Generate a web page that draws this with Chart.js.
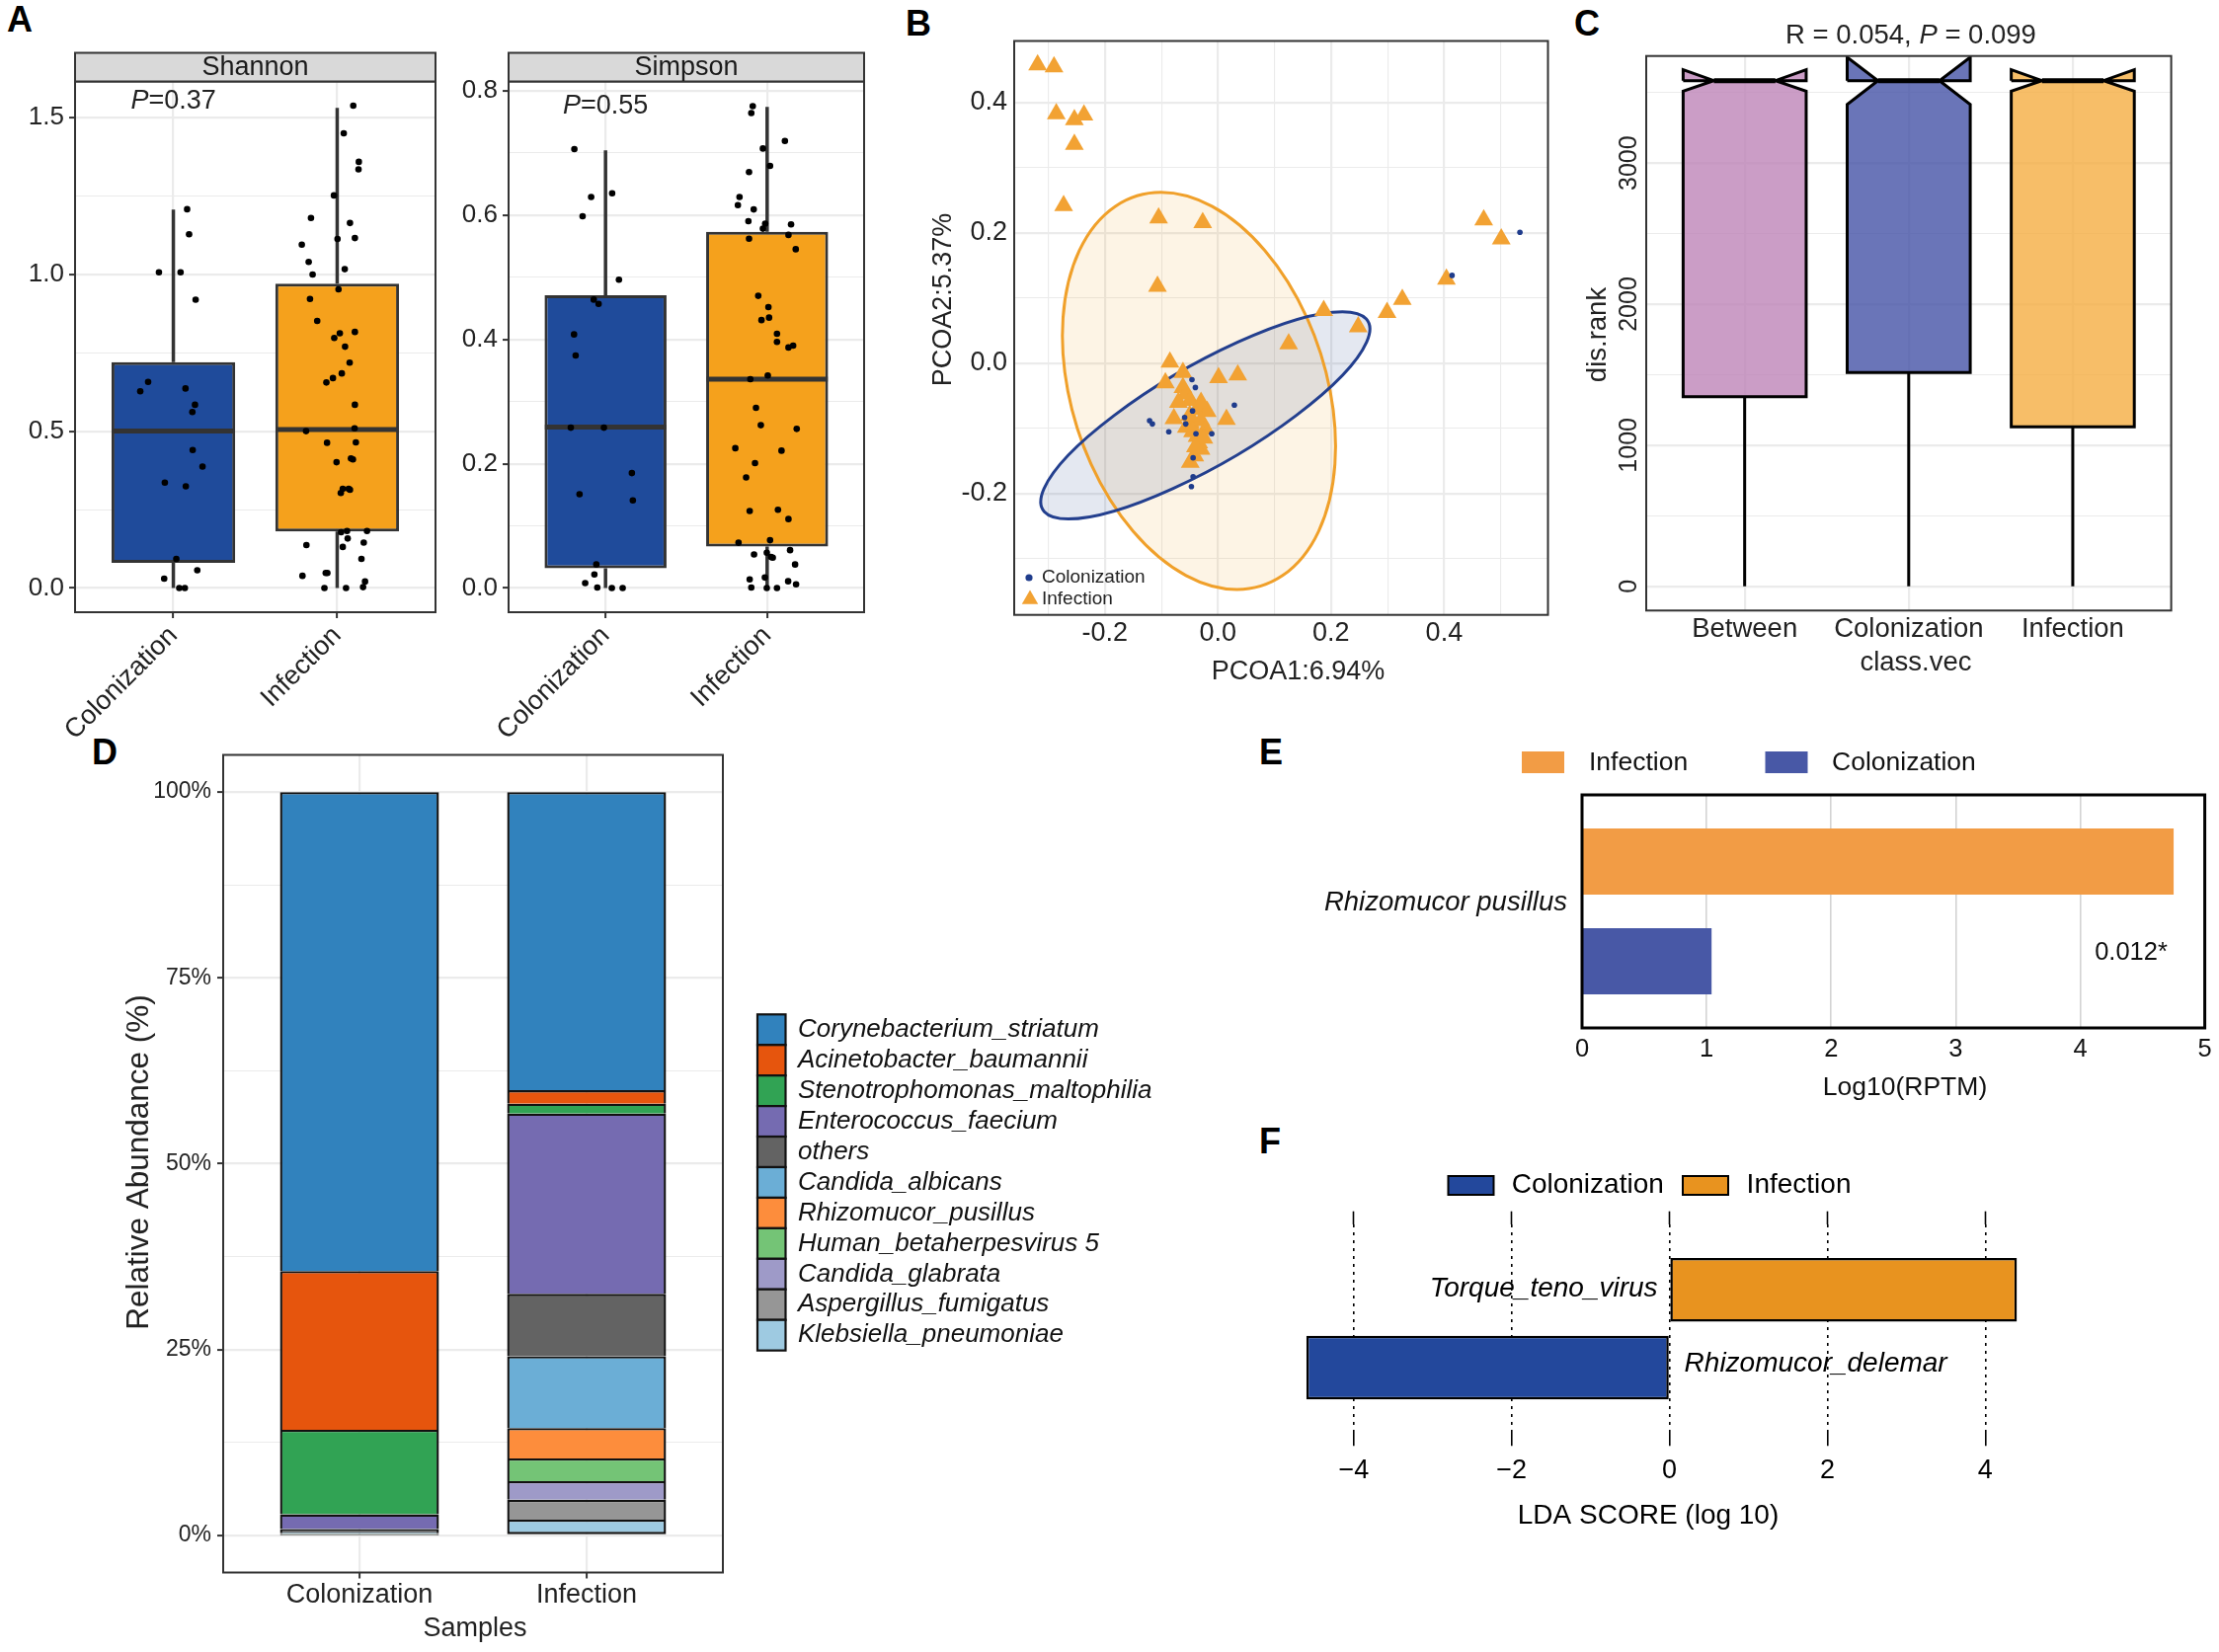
<!DOCTYPE html>
<html>
<head>
<meta charset="utf-8">
<title>Figure</title>
<script src="https://cdn.jsdelivr.net/npm/chart.js@4.4.1/dist/chart.umd.min.js"></script>
<style>
  html, body { margin: 0; padding: 0; background: #fff; }
  body { position: relative; width: 2247px; height: 1673px; overflow: hidden; font-family: 'Liberation Sans', Arial, sans-serif; }
  canvas { position: absolute; }
  .tag { position: absolute; font-weight: bold; font-size: 36px; line-height: 1; color: #000; }
</style>
</head>
<body>
<div class="tag" style="left:7px;top:2px">A</div>
<div class="tag" style="left:917px;top:6px">B</div>
<div class="tag" style="left:1594px;top:6px">C</div>
<div class="tag" style="left:93px;top:744px">D</div>
<div class="tag" style="left:1275px;top:744px">E</div>
<div class="tag" style="left:1275px;top:1138px">F</div>
<canvas id="shannon"></canvas>
<canvas id="simpson"></canvas>
<canvas id="cB"></canvas>
<canvas id="cC"></canvas>
<canvas id="cD"></canvas>
<canvas id="cE"></canvas>
<canvas id="cF"></canvas>
<script>
const FONT = "'Liberation Sans', Arial, sans-serif";
Chart.defaults.font.family = FONT;
Chart.defaults.color = '#222';

// ---------------- data ----------------
const groups = ['Colonization', 'Infection'];
const groupFill = ['#1F4B9B', '#F5A11C'];

// A - Shannon
const shannonTicks = [0, 0.5, 1.0, 1.5];
const shannonQ1 = [0.08, 0.18];
const shannonMed = [0.50, 0.505];
const shannonQ3 = [0.72, 0.97];
const shannonLo = [0, 0];
const shannonHi = [1.206, 1.53];
const shannonColY = [1.207,1.127,1.006,1.006,0.919,0.657,0.627,0.636,0.584,0.561,0.440,0.387,0.336,0.324,0.093,0.057,0.030,0.0,0.0];
const shannonColJit = [0.084,0.096,-0.088,0.044,0.136,-0.154,-0.202,0.074,0.132,0.116,0.118,0.178,-0.052,0.076,0.018,0.146,-0.056,0.036,0.07];
const shannonInfY = [1.537,1.449,1.358,1.334,1.251,1.179,1.163,1.094,1.112,1.115,1.039,1.016,0.999,0.952,0.921,0.851,0.812,0.816,0.797,0.769,0.718,0.684,0.669,0.655,0.584,0.500,0.509,0.463,0.464,0.413,0.410,0.401,0.316,0.316,0.313,0.303,0.178,0.182,0.182,0.137,0.158,0.145,0.131,0.093,0.039,0.048,0.048,0.021,0.0,0.0,0.003];
const shannonInfJit = [0.098,0.04,0.132,0.13,-0.02,-0.16,0.078,-0.216,0.002,0.108,-0.174,0.046,-0.15,0.008,-0.166,-0.122,0.016,0.108,-0.018,0.048,0.076,0.028,-0.026,-0.066,0.108,-0.19,0.106,-0.062,0.114,0.084,0.096,-0.004,0.034,0.07,0.078,0.022,0.024,0.06,0.182,-0.188,0.064,0.162,0.034,0.148,-0.212,-0.07,-0.06,0.17,-0.078,0.054,0.158];

// A - Simpson
const simpsonTicks = [0, 0.2, 0.4, 0.6, 0.8];
const simpsonQ1 = [0.032, 0.067];
const simpsonMed = [0.259, 0.336];
const simpsonQ3 = [0.471, 0.573];
const simpsonLo = [0, 0];
const simpsonHi = [0.704, 0.774];
const simpsonColY = [0.706,0.629,0.635,0.598,0.496,0.464,0.457,0.408,0.374,0.258,0.258,0.185,0.151,0.141,0.038,0.022,0.008,0.001,0.0,0.0];
const simpsonColJit = [-0.193,-0.089,0.041,-0.142,0.083,-0.073,-0.043,-0.195,-0.185,-0.215,-0.01,0.163,-0.161,0.169,-0.057,-0.069,-0.126,-0.051,0.039,0.106];
const simpsonInfY = [0.775,0.764,0.719,0.707,0.679,0.669,0.629,0.616,0.609,0.590,0.586,0.578,0.585,0.568,0.562,0.545,0.470,0.452,0.431,0.435,0.409,0.396,0.387,0.390,0.336,0.342,0.290,0.262,0.256,0.225,0.221,0.201,0.178,0.124,0.126,0.111,0.073,0.077,0.061,0.054,0.057,0.050,0.049,0.038,0.014,0.017,0.011,0.006,0.001,0.0,0.0];
const simpsonInfJit = [-0.089,-0.098,0.11,-0.026,0.018,-0.112,-0.171,-0.181,-0.083,-0.116,-0.012,-0.026,0.148,0.132,-0.112,0.177,-0.055,0.008,-0.035,0.012,0.061,0.061,0.132,0.161,-0.104,0.004,-0.069,-0.039,0.183,-0.197,0.089,-0.075,-0.13,-0.108,0.067,0.132,-0.177,0.018,0.142,-0.081,-0.002,0.024,0.035,0.173,-0.108,-0.014,0.13,0.179,-0.098,-0.002,0.061];

// B - PCoA
const bTicks = [-0.2, 0, 0.2, 0.4];
const bInfX = [-0.319,-0.290,-0.286,-0.254,-0.237,-0.254,-0.273,-0.105,-0.027,-0.107,0.470,0.501,0.404,0.326,0.299,0.187,0.248,0.125,-0.085,-0.062,0.001,0.035,-0.093,-0.062,-0.057,-0.049,-0.034,-0.019,-0.078,0.015,-0.049,-0.030,-0.037,-0.034,-0.030,-0.041,-0.049,-0.056,-0.022,-0.045,-0.025,-0.040,-0.050,-0.070,-0.030];
const bInfY = [0.458,0.455,0.383,0.374,0.381,0.336,0.242,0.223,0.216,0.118,0.220,0.191,0.129,0.098,0.078,0.081,0.056,0.030,0.002,-0.014,-0.022,-0.018,-0.030,-0.037,-0.047,-0.057,-0.071,-0.074,-0.085,-0.086,-0.091,-0.088,-0.112,-0.122,-0.132,-0.142,-0.152,-0.098,-0.101,-0.105,-0.115,-0.128,-0.080,-0.060,-0.060];
const bColX = [0.534,0.414,-0.046,-0.040,0.029,-0.121,-0.116,-0.087,-0.059,-0.057,-0.045,-0.039,-0.011,-0.044,-0.044,-0.047];
const bColY = [0.201,0.135,-0.025,-0.037,-0.064,-0.088,-0.093,-0.105,-0.083,-0.093,-0.073,-0.108,-0.108,-0.145,-0.174,-0.189];
// confidence ellipses: centre, conjugate semi-axes (data units)
const bInfEllC = [-0.0336, -0.0423], bInfEllA = [-0.0672, 0.3047], bInfEllB = [0.232, 0];
const bColEllC = [-0.0224, -0.0798], bColEllA = [0.2425, 0.159], bColEllB = [0.161, 0];

// C - ANOSIM notched boxes
const cGroups = ['Between', 'Colonization', 'Infection'];
const cTicks = [0, 1000, 2000, 3000];
const cQ1 = [1344, 1516, 1131];
const cMed = [3584, 3584, 3584];
const cQ3 = [3584, 3584, 3584];
const cNotchLo = [3509, 3416, 3509];
const cNotchHi = [3662, 3750, 3662];
const cLo = [0, 0, 0];
const cFills = ['rgba(190,132,184,0.8)', 'rgba(69,83,166,0.8)', 'rgba(245,174,66,0.8)'];

// D - relative abundance
const dSamples = ['Colonization', 'Infection'];
const dTaxa = ['Corynebacterium_striatum', 'Acinetobacter_baumannii', 'Stenotrophomonas_maltophilia', 'Enterococcus_faecium', 'others', 'Candida_albicans', 'Rhizomucor_pusillus', 'Human_betaherpesvirus 5', 'Candida_glabrata', 'Aspergillus_fumigatus', 'Klebsiella_pneumoniae'];
const dColors = ['#3182BD', '#E6550D', '#31A354', '#756BB1', '#636363', '#6BAED6', '#FD8D3C', '#74C476', '#9E9AC8', '#969696', '#9ECAE1'];
const dColonization = [64.44, 21.35, 11.38, 1.97, 0.50, 0.10, 0.06, 0.05, 0.05, 0.05, 0.05];
const dInfection = [40.11, 1.81, 1.33, 24.25, 8.40, 9.66, 4.08, 3.06, 2.51, 2.67, 2.12];
const dTicks = [0, 25, 50, 75, 100];

// E - Log10(RPTM)
const eTaxa = ['Rhizomucor pusillus'];
const eInfection = [4.75];
const eColonization = [1.04];
const eTicks = [0, 1, 2, 3, 4, 5];
const ePValue = '0.012*';

// F - LEfSe
const fTaxa = ['Torque_teno_virus', 'Rhizomucor_delemar'];
const fGroup = ['Infection', 'Colonization'];
const fLDA = [4.4, -4.6];
const fTicks = [-4, -2, 0, 2, 4];
const fLegend = ['Colonization', 'Infection'];
const fColors = {Colonization: '#23489C', Infection: '#E8931F'};

// ---------------- helpers ----------------
const GRID = '#EBEBEB';
const AXIS_TXT = '#222';
const BOX_HW = 0.375;
const NOTCH_IN = 0.1875;

function place(id, box) {
  const c = document.getElementById(id);
  c.width = box.w; c.height = box.h;
  c.style.left = box.x + 'px'; c.style.top = box.y + 'px';
  return c;
}
function padFor(box, area, extraTop) {
  return {autoPadding: false, padding: {left: 0, bottom: 0, right: box.x + box.w - area.r, top: area.t - box.y - (extraTop || 0)}};
}
function minorTicks(major, min, max) {
  const step = major[1] - major[0], out = [];
  for (let v = major[0] - step / 2; v <= max; v += step) if (v >= min) out.push(+v.toFixed(6));
  return out;
}
function tickSetter(major, minor) {
  return s => {
    s.ticks = major.map(v => ({value: v}))
      .concat((minor || []).map(v => ({value: v, minor: true})))
      .sort((a, b) => a.value - b.value);
  };
}
const isMinor = c => !!(c.tick && c.tick.minor);
function themeGrid(tickLen) {
  return {
    color: GRID, lineWidth: c => isMinor(c) ? 1.1 : 2.2, offset: false,
    drawTicks: tickLen > 0, tickLength: tickLen, tickWidth: 2,
    tickColor: c => isMinor(c) ? 'rgba(0,0,0,0)' : '#333'
  };
}
function rich(ctx, parts, x, y, align, size, color) {
  ctx.fillStyle = color; ctx.textBaseline = 'middle'; ctx.textAlign = 'left';
  const fonts = parts.map(p => (p[1] ? 'italic ' : '') + size + 'px ' + FONT);
  const ws = parts.map((p, i) => { ctx.font = fonts[i]; return ctx.measureText(p[0]).width; });
  const total = ws.reduce((a, b) => a + b, 0);
  let cx = align === 'center' ? x - total / 2 : align === 'right' ? x - total : x;
  parts.forEach((p, i) => { ctx.font = fonts[i]; ctx.fillText(p[0], cx, y); cx += ws[i]; });
}
function textPlugin(box, items) {
  return {id: 'texts', afterDraw(chart) {
    const ctx = chart.ctx;
    items.forEach(it => {
      const p = it.at ? it.at(chart) : [it.x - box.x, it.y - box.y];
      ctx.save();
      ctx.translate(p[0], p[1]);
      if (it.rot) ctx.rotate(it.rot);
      rich(ctx, it.parts || [[it.text, false]], 0, 0, it.align || 'center', it.size, it.color || AXIS_TXT);
      ctx.restore();
    });
  }};
}
function framePlugin(color, width) {
  return {id: 'frame', afterDatasetsDraw(chart) {
    const {ctx, chartArea: a} = chart;
    ctx.save(); ctx.strokeStyle = color; ctx.lineWidth = width;
    ctx.strokeRect(a.left, a.top, a.right - a.left, a.bottom - a.top);
    ctx.restore();
  }};
}
function stripPlugin(label) {
  return {id: 'strip', afterDraw(chart) {
    const {ctx, chartArea: a} = chart, h = 29;
    ctx.save();
    ctx.fillStyle = '#D9D9D9'; ctx.fillRect(a.left, a.top - h, a.right - a.left, h);
    ctx.strokeStyle = '#333'; ctx.lineWidth = 2; ctx.strokeRect(a.left, a.top - h, a.right - a.left, h);
    rich(ctx, [[label, false]], (a.left + a.right) / 2, a.top - h / 2 + 1, 'center', 27, '#1a1a1a');
    ctx.restore();
  }};
}
const baseOpts = (box, area, extraTop) => ({
  responsive: false, animation: false, events: [],
  layout: padFor(box, area, extraTop),
  plugins: {legend: {display: false}, tooltip: {enabled: false}}
});

// ---------------- A ----------------
function alphaPanel(id, box, area, d) {
  const xs = groups.map((g, i) => i + 1);
  const whisk = [], meds = [], pts = [];
  xs.forEach((x, i) => {
    whisk.push({x, y: d.lo[i]}, {x, y: d.q1[i]}, {x, y: null}, {x, y: d.q3[i]}, {x, y: d.hi[i]}, {x, y: null});
    meds.push({x: x - BOX_HW, y: d.med[i]}, {x: x + BOX_HW, y: d.med[i]}, {x, y: null});
  });
  d.colY.forEach((v, k) => pts.push({x: 1 + d.colJit[k], y: v}));
  d.infY.forEach((v, k) => pts.push({x: 2 + d.infJit[k], y: v}));
  const opts = baseOpts(box, area);
  opts.scales = {
    x: {type: 'linear', min: 0.4, max: 2.6, offset: false, bounds: 'data',
        afterBuildTicks: tickSetter(xs), afterFit: s => { s.height = box.y + box.h - area.b; },
        grid: themeGrid(6), border: {display: false},
        ticks: {autoSkip: false, minRotation: 45, maxRotation: 45, padding: 2, color: AXIS_TXT, font: {size: 27}, callback: v => groups[v - 1]}},
    y: {type: 'linear', min: d.min, max: d.max, bounds: 'data',
        afterBuildTicks: tickSetter(d.ticks, minorTicks(d.ticks, d.min, d.max)), afterFit: s => { s.width = area.l - box.x; },
        grid: themeGrid(6), border: {display: false},
        ticks: {autoSkip: false, padding: 5, color: AXIS_TXT, font: {size: 26}, callback: (v, i, t) => t[i].minor ? '' : v.toFixed(1)}}
  };
  return new Chart(place(id, box), {
    type: 'bar',
    data: {datasets: [
      {type: 'scatter', data: pts, backgroundColor: '#000', pointRadius: 3.3, borderWidth: 0, order: 0},
      {type: 'line', data: meds, borderColor: '#333', borderWidth: 5, pointRadius: 0, order: 1},
      {type: 'bar', data: xs.map((x, i) => ({x, y: [d.q1[i], d.q3[i]]})), backgroundColor: groupFill, borderColor: '#333',
       borderWidth: 3, borderSkipped: false, categoryPercentage: 1, barPercentage: 0.755, order: 2},
      {type: 'line', data: whisk, borderColor: '#333', borderWidth: 3.5, pointRadius: 0, order: 3}
    ]},
    options: opts,
    plugins: [stripPlugin(d.title), framePlugin('#333', 2),
      textPlugin(box, [{parts: [['P', true], ['=' + d.p, false]], size: 27,
        at: c => [c.scales.x.getPixelForValue(d.pAt[0]), c.scales.y.getPixelForValue(d.pAt[1])]}])]
  });
}

alphaPanel('shannon', {x: 0, y: 0, w: 450, h: 750}, {l: 76, t: 82.5, r: 441, b: 620}, {
  title: 'Shannon', ticks: shannonTicks, min: -0.0769, max: 1.614, p: '0.37', pAt: [1, 1.55],
  q1: shannonQ1, med: shannonMed, q3: shannonQ3, lo: shannonLo, hi: shannonHi,
  colY: shannonColY, colJit: shannonColJit, infY: shannonInfY, infJit: shannonInfJit
});
alphaPanel('simpson', {x: 450, y: 0, w: 440, h: 750}, {l: 515, t: 82.5, r: 875, b: 620}, {
  title: 'Simpson', ticks: simpsonTicks, min: -0.0388, max: 0.8148, p: '0.55', pAt: [1, 0.775],
  q1: simpsonQ1, med: simpsonMed, q3: simpsonQ3, lo: simpsonLo, hi: simpsonHi,
  colY: simpsonColY, colJit: simpsonColJit, infY: simpsonInfY, infJit: simpsonInfJit
});

// ---------------- B ----------------
const boxB = {x: 900, y: 0, w: 680, h: 720};
const areaB = {l: 1027, t: 41.5, r: 1567.5, b: 622.7};
const bX = [-0.3604, 0.5836], bY = [-0.386, 0.4947];
function ellipsePath(ctx, xs, ys, c, a, b) {
  const cx = xs.getPixelForValue(c[0]), cy = ys.getPixelForValue(c[1]);
  const ax = xs.getPixelForValue(c[0] + a[0]) - cx, ay = ys.getPixelForValue(c[1] + a[1]) - cy;
  const bx = xs.getPixelForValue(c[0] + b[0]) - cx, by = ys.getPixelForValue(c[1] + b[1]) - cy;
  ctx.save(); ctx.transform(ax, ay, bx, by, cx, cy);
  ctx.beginPath(); ctx.arc(0, 0, 1, 0, Math.PI * 2); ctx.closePath();
  ctx.restore();
}
const ellipsePlugin = {id: 'ellipses', beforeDatasetsDraw(chart) {
  const {ctx, chartArea: ar, scales: {x, y}} = chart;
  const list = [
    [bInfEllC, bInfEllA, bInfEllB, 'rgba(242,161,40,0.12)', '#F0A02A'],
    [bColEllC, bColEllA, bColEllB, 'rgba(35,63,142,0.12)', '#233F8E']
  ];
  ctx.save();
  ctx.beginPath(); ctx.rect(ar.left, ar.top, ar.right - ar.left, ar.bottom - ar.top); ctx.clip();
  list.forEach(e => { ellipsePath(ctx, x, y, e[0], e[1], e[2]); ctx.fillStyle = e[3]; ctx.fill(); });
  list.forEach(e => { ellipsePath(ctx, x, y, e[0], e[1], e[2]); ctx.strokeStyle = e[4]; ctx.lineWidth = 3; ctx.stroke(); });
  ctx.restore();
}};
const bLegend = {id: 'bLegend', afterDraw(chart) {
  const ctx = chart.ctx, ox = boxB.x, oy = boxB.y;
  ctx.save();
  ctx.fillStyle = '#1F3C8C';
  ctx.beginPath(); ctx.arc(1042 - ox, 585 - oy, 3.6, 0, Math.PI * 2); ctx.fill();
  const tx = 1043 - ox, ty = 607 - oy, r = 9.5;
  ctx.fillStyle = '#F2A233';
  ctx.beginPath();
  for (let k = 0; k < 3; k++) {
    const ang = k * 2 * Math.PI / 3;
    const px = tx + Math.sin(ang) * r, py = ty - Math.cos(ang) * r;
    if (k === 0) ctx.moveTo(px, py); else ctx.lineTo(px, py);
  }
  ctx.closePath(); ctx.fill();
  rich(ctx, [['Colonization', false]], 1055 - ox, 585 - oy, 'left', 19, '#222');
  rich(ctx, [['Infection', false]], 1055 - ox, 607 - oy, 'left', 19, '#222');
  ctx.restore();
}};
(function () {
  const opts = baseOpts(boxB, areaB);
  opts.scales = {
    x: {type: 'linear', min: bX[0], max: bX[1], bounds: 'data',
        afterBuildTicks: tickSetter(bTicks, minorTicks(bTicks, bX[0], bX[1])), afterFit: s => { s.height = boxB.y + boxB.h - areaB.b; },
        grid: themeGrid(0), border: {display: false},
        ticks: {autoSkip: false, padding: 3, color: AXIS_TXT, font: {size: 27}, callback: (v, i, t) => t[i].minor ? '' : v.toFixed(1)}},
    y: {type: 'linear', min: bY[0], max: bY[1], bounds: 'data',
        afterBuildTicks: tickSetter(bTicks, minorTicks(bTicks, bY[0], bY[1])), afterFit: s => { s.width = areaB.l - boxB.x; },
        grid: themeGrid(0), border: {display: false},
        ticks: {autoSkip: false, padding: 7, color: AXIS_TXT, font: {size: 27}, callback: (v, i, t) => t[i].minor ? '' : v.toFixed(1)}}
  };
  new Chart(place('cB', boxB), {
    type: 'scatter',
    data: {datasets: [
      {label: 'Colonization', data: bColX.map((v, i) => ({x: v, y: bColY[i]})), backgroundColor: '#1F3C8C', pointRadius: 2.8, borderWidth: 0},
      {label: 'Infection', data: bInfX.map((v, i) => ({x: v, y: bInfY[i]})), pointStyle: 'triangle', pointRadius: 11, backgroundColor: '#F2A233', borderWidth: 0}
    ]},
    options: opts,
    plugins: [ellipsePlugin, framePlugin('#333', 2), bLegend, textPlugin(boxB, [
      {text: 'PCOA1:6.94%', x: 1314.5, y: 681, size: 27},
      {text: 'PCOA2:5.37%', x: 955.6, y: 303.5, size: 27, rot: -Math.PI / 2}
    ])]
  });
})();

// ---------------- C ----------------
const boxC = {x: 1585, y: 0, w: 662, h: 720};
const areaC = {l: 1667, t: 56.7, r: 2198.6, b: 618.3};
const cY = [-172, 3759];
(function () {
  const xs = cGroups.map((g, i) => i + 1);
  const ds = [];
  xs.forEach((x, i) => {
    const l = x - BOX_HW, r = x + BOX_HW;
    ds.push({type: 'line', order: 1, fill: 'shape', backgroundColor: cFills[i], borderColor: '#000', borderWidth: 3, pointRadius: 0,
      data: [{x: l, y: cQ3[i]}, {x: l, y: cNotchHi[i]}, {x: l + NOTCH_IN, y: cMed[i]}, {x: l, y: cNotchLo[i]}, {x: l, y: cQ1[i]},
             {x: r, y: cQ1[i]}, {x: r, y: cNotchLo[i]}, {x: r - NOTCH_IN, y: cMed[i]}, {x: r, y: cNotchHi[i]}, {x: r, y: cQ3[i]}, {x: l, y: cQ3[i]}]});
  });
  const meds = [], whisk = [];
  xs.forEach((x, i) => {
    meds.push({x: x - BOX_HW + NOTCH_IN, y: cMed[i]}, {x: x + BOX_HW - NOTCH_IN, y: cMed[i]}, {x, y: null});
    whisk.push({x, y: cLo[i]}, {x, y: cQ1[i]}, {x, y: null});
  });
  ds.push({type: 'line', order: 0, data: meds, borderColor: '#000', borderWidth: 5, pointRadius: 0});
  ds.push({type: 'line', order: 2, data: whisk, borderColor: '#000', borderWidth: 3, pointRadius: 0});
  const cYLabels = {id: 'cYLabels', afterDraw(chart) {
    const {ctx, scales: {y}} = chart;
    cTicks.forEach(v => {
      ctx.save(); ctx.translate(1650 - boxC.x, y.getPixelForValue(v)); ctx.rotate(-Math.PI / 2);
      rich(ctx, [[String(v), false]], 0, 0, 'center', 25, AXIS_TXT); ctx.restore();
    });
  }};
  const opts = baseOpts(boxC, areaC);
  opts.scales = {
    x: {type: 'linear', min: 0.4, max: 3.6, bounds: 'data', afterBuildTicks: tickSetter(xs),
        afterFit: s => { s.height = boxC.y + boxC.h - areaC.b; }, grid: themeGrid(0), border: {display: false},
        ticks: {autoSkip: false, maxRotation: 0, padding: 3, color: AXIS_TXT, font: {size: 27.5}, callback: v => cGroups[v - 1]}},
    y: {type: 'linear', min: cY[0], max: cY[1], bounds: 'data',
        afterBuildTicks: tickSetter(cTicks, minorTicks(cTicks, cY[0], cY[1])), afterFit: s => { s.width = areaC.l - boxC.x; },
        grid: themeGrid(0), border: {display: false}, ticks: {display: false}}
  };
  new Chart(place('cC', boxC), {
    type: 'line', data: {datasets: ds}, options: opts,
    plugins: [framePlugin('#333', 2), cYLabels, textPlugin(boxC, [
      {parts: [['R = 0.054, ', false], ['P', true], [' = 0.099', false]], x: 1935, y: 36.6, size: 27.5},
      {text: 'class.vec', x: 1940, y: 671, size: 27.5},
      {text: 'dis.rank', x: 1618, y: 339, size: 27.5, rot: -Math.PI / 2}
    ])]
  });
})();

// ---------------- D ----------------
const boxD = {x: 0, y: 740, w: 1255, h: 933};
const areaD = {l: 226, t: 764.5, r: 732, b: 1592.5};
const dY = [-5, 105];
(function () {
  const abund = [dColonization, dInfection];
  const xs = dSamples.map((s, j) => j + 1);
  const datasets = dTaxa.map((t, i) => ({
    label: t, backgroundColor: dColors[i],
    data: xs.map((x, j) => ({x, y: abund[j][i]}))
  })).reverse();
  const dLegend = {id: 'dLegend', afterDraw(chart) {
    const ctx = chart.ctx, ox = boxD.x, oy = boxD.y, top = 1027.3, row = 30.94;
    ctx.save();
    dTaxa.forEach((t, i) => {
      const y = top + i * row - oy;
      ctx.fillStyle = dColors[i]; ctx.fillRect(767 - ox, y, 28.5, row);
      ctx.strokeStyle = '#111'; ctx.lineWidth = 2.2; ctx.strokeRect(767 - ox, y, 28.5, row);
      rich(ctx, [[t, true]], 808 - ox, y + row / 2, 'left', 26, '#111');
    });
    ctx.restore();
  }};
  const opts = baseOpts(boxD, areaD);
  opts.datasets = {bar: {borderColor: '#111', borderWidth: 2.4, categoryPercentage: 1, barPercentage: 0.7,
    borderSkipped: c => c.datasetIndex === 0 ? false : 'start'}};
  opts.scales = {
    x: {type: 'linear', stacked: true, min: 0.4, max: 2.6, offset: false, bounds: 'data', afterBuildTicks: tickSetter(xs),
        afterFit: s => { s.height = boxD.y + boxD.h - areaD.b; }, grid: themeGrid(6), border: {display: false},
        ticks: {autoSkip: false, maxRotation: 0, padding: 1, color: AXIS_TXT, font: {size: 27}, callback: v => dSamples[v - 1]}},
    y: {type: 'linear', stacked: true, min: dY[0], max: dY[1], bounds: 'data',
        afterBuildTicks: tickSetter(dTicks, minorTicks(dTicks, dY[0], dY[1])), afterFit: s => { s.width = areaD.l - boxD.x; },
        grid: themeGrid(6), border: {display: false},
        ticks: {autoSkip: false, padding: 6, color: AXIS_TXT, font: {size: 23}, callback: (v, i, t) => t[i].minor ? '' : v + '%'}}
  };
  new Chart(place('cD', boxD), {
    type: 'bar', data: {datasets}, options: opts,
    plugins: [framePlugin('#333', 2), dLegend, textPlugin(boxD, [
      {text: 'Samples', x: 481, y: 1649.3, size: 27},
      {text: 'Relative Abundance (%)', x: 141.5, y: 1177, size: 31.5, rot: -Math.PI / 2}
    ])]
  });
})();

// ---------------- E ----------------
const boxE = {x: 1260, y: 745, w: 987, h: 395};
const areaE = {l: 1602, t: 805, r: 2232.6, b: 1041};
(function () {
  const legendPos = [{box: 1541, text: 1609}, {box: 1787.5, text: 1855}];
  const eLegend = {id: 'eLegend', afterDraw(chart) {
    const ctx = chart.ctx;
    ctx.save();
    chart.data.datasets.forEach((ds, i) => {
      ctx.fillStyle = ds.backgroundColor;
      ctx.fillRect(legendPos[i].box - boxE.x, 761 - boxE.y, 43, 22);
      rich(ctx, [[ds.label, false]], legendPos[i].text - boxE.x, 772.5 - boxE.y, 'left', 26.5, '#111');
    });
    ctx.restore();
  }};
  const opts = baseOpts(boxE, areaE);
  opts.indexAxis = 'y';
  opts.datasets = {bar: {categoryPercentage: 0.856, barPercentage: 0.663, borderWidth: 0}};
  opts.scales = {
    x: {type: 'linear', min: 0, max: 5, bounds: 'data', afterBuildTicks: tickSetter(eTicks),
        afterFit: s => { s.height = boxE.y + boxE.h - areaE.b; },
        grid: {color: c => (c.tick && (c.tick.value === 0 || c.tick.value === 5)) ? 'rgba(0,0,0,0)' : '#D3D3D3', lineWidth: 1.6, drawTicks: false},
        border: {display: false},
        ticks: {autoSkip: false, padding: 7, color: '#111', font: {size: 25.5}}},
    y: {type: 'category', offset: true, afterFit: s => { s.width = areaE.l - boxE.x; },
        grid: {display: false, drawTicks: false}, border: {display: false},
        ticks: {padding: 15, labelOffset: -9, color: '#111', font: {size: 27.5, style: 'italic'}}}
  };
  new Chart(place('cE', boxE), {
    type: 'bar',
    data: {labels: eTaxa, datasets: [
      {label: 'Infection', data: eInfection, backgroundColor: '#F29C45'},
      {label: 'Colonization', data: eColonization, backgroundColor: '#4858A6'}
    ]},
    options: opts,
    plugins: [framePlugin('#000', 3), eLegend, textPlugin(boxE, [
      {text: ePValue, x: 2158, y: 965, size: 25.5, color: '#111'},
      {text: 'Log10(RPTM)', x: 1929, y: 1101.7, size: 26.5, color: '#111'}
    ])]
  });
})();

// ---------------- F ----------------
const boxF = {x: 1260, y: 1140, w: 987, h: 533};
const areaF = {l: 1290.85, t: 1240, r: 2130.3, b: 1450};
const fX = [-5, 5.5], fY = [0.16, 2.825];
(function () {
  const datasets = fLegend.map(g => ({
    label: g, backgroundColor: fColors[g],
    data: fTaxa.map((t, i) => fGroup[i] === g ? {x: fLDA[i], y: i + 1} : null).filter(Boolean)
  }));
  const fLeg = {id: 'fLegend', afterDraw(chart) {
    const ctx = chart.ctx, pos = [{box: 1466.5, text: 1530.7}, {box: 1704, text: 1768.6}];
    ctx.save();
    chart.data.datasets.forEach((ds, i) => {
      ctx.fillStyle = ds.backgroundColor; ctx.fillRect(pos[i].box - boxF.x, 1191 - boxF.y, 46, 19);
      ctx.strokeStyle = '#000'; ctx.lineWidth = 2; ctx.strokeRect(pos[i].box - boxF.x, 1191 - boxF.y, 46, 19);
      rich(ctx, [[ds.label, false]], pos[i].text - boxF.x, 1200.7 - boxF.y, 'left', 28, '#000');
    });
    ctx.restore();
  }};
  const fLabels = {id: 'fLabels', afterDraw(chart) {
    const {ctx, scales: {x, y}} = chart, x0 = x.getPixelForValue(0);
    fTaxa.forEach((t, i) => {
      const py = y.getPixelForValue(i + 1);
      if (fLDA[i] >= 0) rich(ctx, [[t, true]], x0 - 12, py - 1, 'right', 28, '#000');
      else rich(ctx, [[t, true]], x0 + 15, py - 4, 'left', 28, '#000');
    });
  }};
  const opts = baseOpts(boxF, areaF, 13.3);
  opts.indexAxis = 'y';
  opts.datasets = {bar: {grouped: false, categoryPercentage: 0.9, barPercentage: 0.91, borderColor: '#000', borderWidth: 2.5, borderSkipped: false}};
  opts.scales = {
    x: {type: 'linear', position: 'bottom', min: fX[0], max: fX[1], bounds: 'data', afterBuildTicks: tickSetter(fTicks),
        afterFit: s => { s.height = boxF.y + boxF.h - areaF.b; },
        grid: {color: '#000', lineWidth: 1.6, drawTicks: true, tickLength: 14.3, tickColor: '#000', tickWidth: 1.6, tickBorderDash: [], borderDash: [3, 5]},
        border: {display: false, dash: [3, 5]},
        ticks: {autoSkip: false, padding: 9, color: '#000', font: {size: 27}, callback: v => (v < 0 ? '\u2212' : '') + Math.abs(v)}},
    x2: {type: 'linear', position: 'top', min: fX[0], max: fX[1], bounds: 'data', afterBuildTicks: tickSetter(fTicks),
        afterFit: s => { s.height = 13.3; },
        grid: {drawOnChartArea: false, drawTicks: true, tickLength: 13.3, tickColor: '#000', tickWidth: 1.6, tickBorderDash: []},
        border: {display: false}, ticks: {display: false}},
    y: {type: 'linear', reverse: true, offset: false, min: fY[0], max: fY[1], bounds: 'data', afterBuildTicks: tickSetter([1, 2]),
        afterFit: s => { s.width = areaF.l - boxF.x; },
        grid: {display: false, offset: false}, border: {display: false}, ticks: {display: false}}
  };
  new Chart(place('cF', boxF), {
    type: 'bar', data: {datasets}, options: opts,
    plugins: [fLeg, fLabels, textPlugin(boxF, [
      {text: 'LDA SCORE (log 10)', x: 1669, y: 1535, size: 28, color: '#000'}
    ])]
  });
})();
</script>
</body>
</html>
